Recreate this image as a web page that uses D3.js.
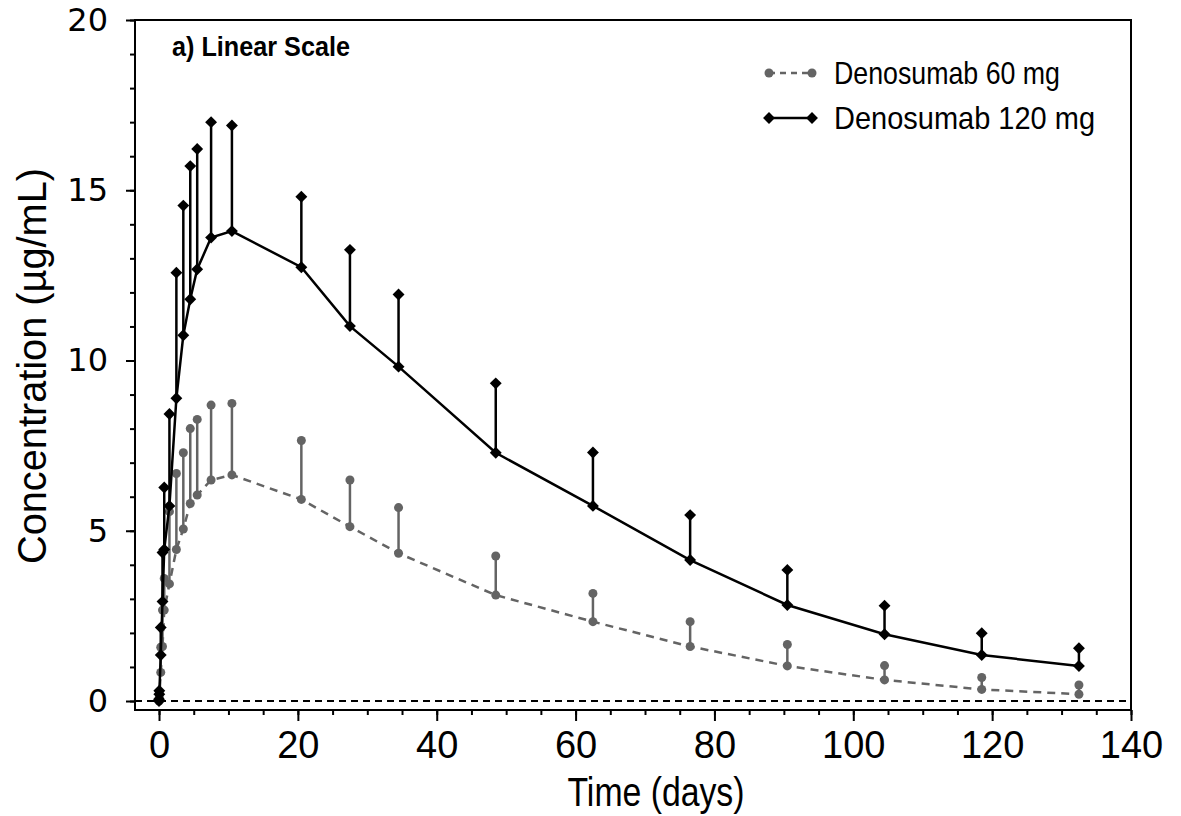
<!DOCTYPE html>
<html lang="en">
<head>
    <meta charset="UTF-8">
    <title>Denosumab concentration - linear scale</title>
    <script src="https://cdnjs.cloudflare.com/ajax/libs/d3/7.8.5/d3.min.js"></script>
    <style>
        body { margin: 0; background: #fff; overflow: hidden; }
        .narrow { font-family: "Liberation Sans Narrow", "Liberation Sans", Arial, sans-serif; }
    </style>
</head>
<body>
    <div id="chart"></div>

    <script>
        // Data
        const times = [0, 0.04, 0.25, 0.5, 0.75, 1.5, 2.5, 3.5, 4.5, 5.5, 7.5, 10.5,
                       20.5, 27.5, 34.5, 48.5, 62.5, 76.5, 90.5, 104.5, 118.5, 132.5];

        const mean60 = [0, 0.1, 0.84, 1.6, 2.67, 3.44, 4.45, 5.05, 5.8, 6.05, 6.49, 6.64,
                        5.92, 5.12, 4.34, 3.11, 2.33, 1.6, 1.03, 0.62, 0.34, 0.2];
        const upper60 = [0.05, 0.2, 1.58, 2.67, 3.6, 5.56, 6.68, 7.29, 8.0, 8.27, 8.69, 8.74,
                         7.65, 6.49, 5.68, 4.26, 3.16, 2.33, 1.66, 1.04, 0.69, 0.47];

        const mean120 = [0, 0.2, 1.35, 2.92, 4.45, 5.73, 8.89, 10.74, 11.8, 12.68, 13.61, 13.8,
                         12.74, 11.01, 9.82, 7.29, 5.73, 4.14, 2.82, 1.96, 1.35, 1.03];
        const upper120 = [0.05, 0.3, 2.16, 4.36, 6.27, 8.43, 12.58, 14.55, 15.71, 16.21, 17.0, 16.9,
                          14.81, 13.25, 11.94, 9.33, 7.3, 5.46, 3.85, 2.8, 1.99, 1.55];

        const xTicks = [0, 20, 40, 60, 80, 100, 120, 140];
        const yTicks = [0, 5, 10, 15, 20];
        const seriesNames = ["Denosumab 60 mg", "Denosumab 120 mg"];

        // Layout
        const width = 1181, height = 816;
        const plotLeft = 135, plotRight = 1131, plotTop = 20, plotBottom = 710;
        const grey = "#646464";

        const svg = d3.select("#chart").append("svg")
            .attr("width", width)
            .attr("height", height);

        const x = d3.scaleLinear().domain([-3.46, 140]).range([plotLeft, plotRight]);
        const y = d3.scaleLinear().domain([-0.264, 20]).range([plotBottom, plotTop]);

        const series = [
            { name: seriesNames[0], mean: mean60, upper: upper60, color: grey, dash: "8,6", shape: "circle", textLen: 226 },
            { name: seriesNames[1], mean: mean120, upper: upper120, color: "#000", dash: null, shape: "diamond", textLen: 261 }
        ];

        // zero reference line
        svg.append("line")
            .attr("x1", plotLeft).attr("x2", plotRight)
            .attr("y1", y(0)).attr("y2", y(0))
            .attr("stroke", "#000").attr("stroke-width", 2)
            .attr("stroke-dasharray", "7,5");

        // axes - minor ticks first
        svg.append("g")
            .attr("transform", `translate(0,${plotBottom})`)
            .call(d3.axisBottom(x).tickValues(d3.range(0, 141, 5)).tickSize(5).tickFormat(""))
            .call(g => g.select(".domain").remove())
            .selectAll("line").attr("stroke-width", 2);

        svg.append("g")
            .attr("transform", `translate(${plotLeft},0)`)
            .call(d3.axisLeft(y).tickValues(d3.range(0, 21, 1)).tickSize(5).tickFormat(""))
            .call(g => g.select(".domain").remove())
            .selectAll("line").attr("stroke-width", 2);

        const xAxis = svg.append("g")
            .attr("transform", `translate(0,${plotBottom})`)
            .call(d3.axisBottom(x).tickValues(xTicks).tickSize(11).tickPadding(10));
        xAxis.select(".domain").remove();
        xAxis.selectAll("line").attr("stroke-width", 2);
        xAxis.selectAll("text")
            .attr("class", "narrow")
            .attr("font-size", 38)
            .attr("fill", "#000");

        const yAxis = svg.append("g")
            .attr("transform", `translate(${plotLeft},0)`)
            .call(d3.axisLeft(y).tickValues(yTicks).tickSize(9).tickPadding(18));
        yAxis.select(".domain").remove();
        yAxis.selectAll("line").attr("stroke-width", 2);
        yAxis.selectAll("text")
            .attr("font-family", "DejaVu Sans, sans-serif")
            .attr("font-size", 32)
            .attr("fill", "#000");

        // frame
        svg.append("rect")
            .attr("x", plotLeft).attr("y", plotTop)
            .attr("width", plotRight - plotLeft).attr("height", plotBottom - plotTop)
            .attr("fill", "none").attr("stroke", "#000").attr("stroke-width", 2);

        // series
        const diamond = d3.symbol().type(d3.symbolDiamond2).size(90);

        function drawMarker(g, shape, color, cx, cy) {
            if (shape === "circle") {
                g.append("circle").attr("cx", cx).attr("cy", cy).attr("r", 4.5).attr("fill", color);
            } else {
                g.append("path").attr("d", diamond).attr("transform", `translate(${cx},${cy})`).attr("fill", color);
            }
        }

        series.forEach(s => {
            const g = svg.append("g");
            const pts = times.map((t, i) => ({ t: t, m: s.mean[i], u: s.upper[i] }));

            // error bars (upper only)
            g.selectAll(".err").data(pts).join("line")
                .attr("x1", d => x(d.t)).attr("x2", d => x(d.t))
                .attr("y1", d => y(d.m)).attr("y2", d => y(d.u))
                .attr("stroke", s.color).attr("stroke-width", 2.5);

            g.append("path")
                .datum(pts)
                .attr("fill", "none")
                .attr("stroke", s.color)
                .attr("stroke-width", 2.5)
                .attr("stroke-dasharray", s.dash)
                .attr("d", d3.line().x(d => x(d.t)).y(d => y(d.m)));

            pts.forEach(d => {
                drawMarker(g, s.shape, s.color, x(d.t), y(d.u));
                drawMarker(g, s.shape, s.color, x(d.t), y(d.m));
            });
        });

        // panel title
        svg.append("text")
            .attr("class", "narrow")
            .attr("x", 172).attr("y", 56)
            .attr("font-size", 28).attr("font-weight", "bold")
            .attr("textLength", 178).attr("lengthAdjust", "spacingAndGlyphs")
            .text("a) Linear Scale");

        // legend
        series.forEach((s, i) => {
            const ly = 73 + i * 45;
            const g = svg.append("g");
            g.append("line")
                .attr("x1", 769).attr("x2", 812).attr("y1", ly).attr("y2", ly)
                .attr("stroke", s.color).attr("stroke-width", 2.5)
                .attr("stroke-dasharray", s.dash ? "6,5" : null);
            drawMarker(g, s.shape, s.color, 769, ly);
            drawMarker(g, s.shape, s.color, 812, ly);
            g.append("text")
                .attr("class", "narrow")
                .attr("x", 834).attr("y", ly)
                .attr("dy", "0.35em")
                .attr("font-size", 32)
                .attr("textLength", s.textLen).attr("lengthAdjust", "spacingAndGlyphs")
                .text(s.name);
        });

        // axis titles
        svg.append("text")
            .attr("class", "narrow")
            .attr("x", 656).attr("y", 806)
            .attr("text-anchor", "middle")
            .attr("font-size", 40)
            .attr("textLength", 177).attr("lengthAdjust", "spacingAndGlyphs")
            .text("Time (days)");

        svg.append("text")
            .attr("class", "narrow")
            .attr("transform", `translate(46,${366}) rotate(-90)`)
            .attr("text-anchor", "middle")
            .attr("font-size", 40)
            .attr("textLength", 396).attr("lengthAdjust", "spacingAndGlyphs")
            .text("Concentration (µg/mL)");
    </script>
</body>
</html>
